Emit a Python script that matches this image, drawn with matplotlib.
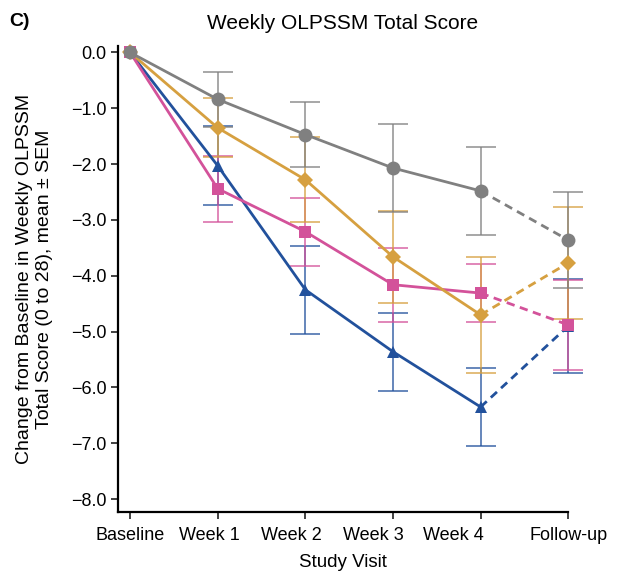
import matplotlib.pyplot as plt
import matplotlib.transforms as mtransforms
import numpy as np

plt.rcParams['font.family'] = ['Liberation Sans', 'DejaVu Sans']
plt.rcParams['axes.linewidth'] = 1.6

visits = ["Baseline", "Week 1", "Week 2", "Week 3", "Week 4", "Follow-up"]

gray_mean = [0.0, -0.84, -1.47, -2.07, -2.48, -3.36]
gray_sem = [0.0, 0.49, 0.59, 0.79, 0.79, 0.86]

gold_mean = [0.0, -1.35, -2.28, -3.66, -4.70, -3.77]
gold_sem = [0.0, 0.53, 0.76, 0.82, 1.04, 1.00]

pink_mean = [0.0, -2.44, -3.21, -4.16, -4.31, -4.88]
pink_sem = [0.0, 0.59, 0.61, 0.66, 0.52, 0.81]

blue_mean = [0.0, -2.03, -4.25, -5.36, -6.35, -4.90]
blue_sem = [0.0, 0.71, 0.79, 0.70, 0.69, 0.85]

# label shift in px (the source figure has labels not centred on ticks)
label_shift = [0, -8, -14, -20, -27, 0]

series = [
    (blue_mean, blue_sem, '#22519c', '^', 9),
    (pink_mean, pink_sem, '#d3529a', 's', 8.5),
    (gold_mean, gold_sem, '#d6a040', 'D', 8),
    (gray_mean, gray_sem, '#808080', 'o', 10),
]

fig = plt.figure(figsize=(6.17, 5.72), dpi=100)
ax = fig.add_axes([0.191, 0.105, 0.73, 0.815])

x = np.arange(len(visits))
for mean, sem, color, marker, ms in series:
    mean = np.array(mean)
    sem = np.array(sem)
    ax.errorbar(x[1:], mean[1:], yerr=sem[1:], fmt='none', ecolor=color,
                elinewidth=1.3, capsize=11, capthick=1.3, alpha=0.75, clip_on=False, zorder=2)
    ax.plot(x[:5], mean[:5], color=color, lw=2, zorder=3, clip_on=False)
    ax.plot(x[4:], mean[4:], color=color, lw=2, ls=(0, (3, 2)), zorder=3, clip_on=False)
    ax.plot(x, mean, ls='none', marker=marker, color=color, ms=ms,
            markeredgewidth=0, zorder=4, clip_on=False)

ax.set_xlim(-0.14, 5)
ax.set_ylim(-8.23, 0.12)
yt = np.arange(0, -8.5, -1.0)
ax.set_yticks(yt)
ax.set_yticklabels([f"{v:.1f}".replace('-', '\u2212') for v in yt])
ax.set_xticks(x)
ax.set_xticklabels(visits)
ax.tick_params(labelsize=13, length=5, width=1.3, color='#333333')
ax.tick_params(axis='y', pad=3)
ax.tick_params(axis='x', pad=6)
ax.spines['top'].set_visible(False)
ax.spines['right'].set_visible(False)

for lab, dx in zip(ax.get_xticklabels(), label_shift):
    lab.set_transform(lab.get_transform() + mtransforms.ScaledTranslation(dx / 100, 0, fig.dpi_scale_trans))

ax.set_xlabel("Study Visit", fontsize=13.5, labelpad=7)
ax.set_ylabel("Change from Baseline in Weekly OLPSSM\nTotal Score (0 to 28), mean \u00b1 SEM", fontsize=14, labelpad=13)
ax.set_title("Weekly OLPSSM Total Score", fontsize=15, pad=12)
fig.text(0.015, 0.955, "C)", fontsize=14, fontweight='bold')

plt.savefig('out.png', dpi=100)
